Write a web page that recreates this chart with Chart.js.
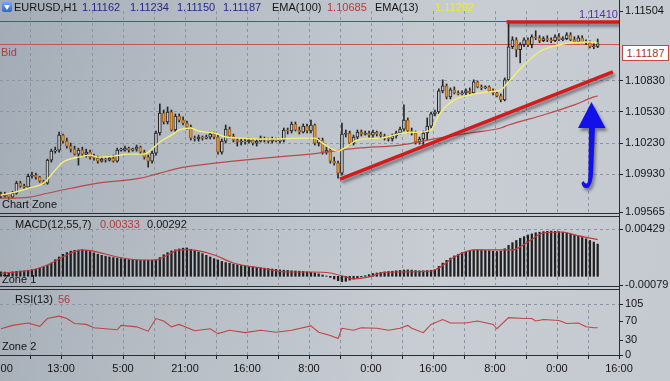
<!DOCTYPE html>
<html>
<head>
<meta charset="utf-8">
<title>EURUSD,H1</title>
<script src="https://cdn.jsdelivr.net/npm/chart.js@4.4.1/dist/chart.umd.min.js"></script>
<style>
  html, body { margin: 0; padding: 0; }
  body {
    width: 670px; height: 381px; overflow: hidden; position: relative;
    font-family: "Liberation Sans", Arial, sans-serif; font-size: 11px; color: #141414;
    background: linear-gradient(100deg, #a3acb6 0%, #b6bdc5 30%, #c8cdd3 65%, #c5cad0 100%);
  }
  canvas { position: absolute; left: -24px; }
  .t { position: absolute; white-space: nowrap; line-height: 12px; z-index: 3; }
  .ln { position: absolute; background: #2a2e33; z-index: 2; }
  .navy { color: #262688; }
  .red { color: #b43a3a; }
  #icon { position: absolute; left: 2px; top: 2px; width: 10px; height: 10px; border-radius: 2px;
    background: linear-gradient(#6fa8ee, #2f66c8); z-index: 3; }
  #icon:after { content: ''; position: absolute; left: 2px; top: 3px; border-left: 3px solid transparent;
    border-right: 3px solid transparent; border-top: 5px solid #fff; }
  #bidBox { position: absolute; left: 622px; top: 45px; width: 45px; height: 14px; background: #fff;
    border: 1px solid #c04848; color: #a83434; text-align: center; line-height: 14px; z-index: 3; }
</style>
</head>
<body>
<canvas id="mainCv" width="694" height="222" style="top:0"></canvas>
<canvas id="macdCv" width="694" height="80" style="top:215px"></canvas>
<canvas id="rsiCv" width="694" height="94" style="top:287px"></canvas>

<div class="ln" style="left:619px;top:0;width:1px;height:356px"></div>
<div class="ln" style="left:0;top:213px;width:620px;height:1px"></div>
<div class="ln" style="left:0;top:216px;width:620px;height:1px"></div>
<div class="ln" style="left:0;top:286px;width:620px;height:1px"></div>
<div class="ln" style="left:0;top:289px;width:620px;height:1px"></div>

<div id="icon"></div>
<div class="t" style="left:14px;top:1px">EURUSD,H1</div>
<div class="t navy" style="left:82px;top:1px">1.11162</div>
<div class="t navy" style="left:130px;top:1px">1.11234</div>
<div class="t navy" style="left:177px;top:1px">1.11150</div>
<div class="t navy" style="left:223px;top:1px">1.11187</div>
<div class="t" style="left:272px;top:1px">EMA(100)</div>
<div class="t red" style="left:327px;top:1px">1.10685</div>
<div class="t" style="left:375px;top:1px">EMA(13)</div>
<div class="t" style="left:435px;top:1px;color:#ece83e">1.11202</div>
<div class="t" style="left:579px;top:8px;color:#5a2ea8">1.11410</div>
<div class="t red" style="left:1px;top:46px">Bid</div>
<div id="bidBox">1.11187</div>
<div class="t" style="left:2px;top:198px">Chart Zone</div>
<div class="t" style="left:15px;top:218px">MACD(12,55,7)</div>
<div class="t red" style="left:100px;top:218px">0.00333</div>
<div class="t" style="left:147px;top:218px">0.00292</div>
<div class="t" style="left:2px;top:273px">Zone 1</div>
<div class="t" style="left:15px;top:293px">RSI(13)</div>
<div class="t red" style="left:58px;top:293px">56</div>
<div class="t" style="left:2px;top:340px">Zone 2</div>

<script>
// ── EURUSD H1 — candles, EMA(13)/EMA(100), MACD and RSI panes ──────────────

// candles, one per hour
const opens = [
  1.09736,1.09717,1.09736,1.09707,1.09746,1.09843,1.09814,1.09804,1.09910,1.09920,
  1.09901,1.09862,1.09843,1.10065,1.10152,1.10162,1.10307,1.10249,1.10201,1.10172,
  1.10123,1.10162,1.10123,1.10143,1.10094,1.10085,1.10056,1.10075,1.10065,1.10085,
  1.10056,1.10162,1.10162,1.10181,1.10162,1.10172,1.10191,1.10143,1.10094,1.10056,
  1.10133,1.10327,1.10520,1.10433,1.10530,1.10356,1.10491,1.10452,1.10423,1.10385,
  1.10278,1.10269,1.10288,1.10278,1.10288,1.10317,1.10288,1.10143,1.10249,1.10365,
  1.10298,1.10259,1.10240,1.10249,1.10240,1.10259,1.10230,1.10249,1.10278,1.10259,
  1.10249,1.10269,1.10249,1.10259,1.10356,1.10346,1.10414,1.10356,1.10336,1.10394,
  1.10346,1.10404,1.10230,1.10259,1.10143,1.10162,1.10056,1.10036,1.09940,1.10317,
  1.10327,1.10230,1.10288,1.10336,1.10317,1.10327,1.10307,1.10336,1.10317,1.10298,
  1.10278,1.10269,1.10298,1.10327,1.10365,1.10452,1.10346,1.10327,1.10240,1.10269,
  1.10327,1.10394,1.10511,1.10530,1.10733,1.10782,1.10675,1.10743,1.10714,1.10704,
  1.10714,1.10733,1.10714,1.10820,1.10772,1.10762,1.10772,1.10733,1.10714,1.10685,
  1.10646,1.10840,1.11159,1.11227,1.11130,1.11179,1.11227,1.11179,1.11256,1.11246,
  1.11217,1.11237,1.11227,1.11217,1.11256,1.11227,1.11237,1.11275,1.11227,1.11208,
  1.11246,1.11208,1.11198,1.11159,1.11162
];
const highs = [
  1.09756,1.09756,1.09746,1.09765,1.09862,1.09862,1.09833,1.09930,1.09949,1.09940,
  1.09910,1.09872,1.10075,1.10172,1.10191,1.10336,1.10317,1.10278,1.10230,1.10201,
  1.10181,1.10191,1.10172,1.10162,1.10123,1.10104,1.10094,1.10085,1.10104,1.10114,
  1.10181,1.10181,1.10201,1.10191,1.10181,1.10211,1.10201,1.10162,1.10114,1.10152,
  1.10346,1.10607,1.10549,1.10578,1.10549,1.10511,1.10511,1.10482,1.10443,1.10404,
  1.10298,1.10307,1.10298,1.10307,1.10336,1.10336,1.10307,1.10269,1.10404,1.10385,
  1.10317,1.10278,1.10269,1.10269,1.10278,1.10269,1.10269,1.10298,1.10288,1.10278,
  1.10288,1.10278,1.10269,1.10375,1.10375,1.10433,1.10433,1.10385,1.10414,1.10414,
  1.10452,1.10414,1.10278,1.10278,1.10191,1.10181,1.10094,1.10056,1.10423,1.10356,
  1.10346,1.10307,1.10356,1.10356,1.10346,1.10346,1.10356,1.10346,1.10336,1.10317,
  1.10298,1.10317,1.10346,1.10385,1.10598,1.10472,1.10375,1.10346,1.10288,1.10346,
  1.10472,1.10530,1.10549,1.10753,1.10840,1.10801,1.10762,1.10772,1.10733,1.10733,
  1.10753,1.10762,1.10840,1.10830,1.10791,1.10782,1.10782,1.10753,1.10724,1.10704,
  1.10859,1.11410,1.11256,1.11246,1.11198,1.11246,1.11246,1.11275,1.11314,1.11266,
  1.11256,1.11266,1.11246,1.11275,1.11285,1.11256,1.11295,1.11295,1.11256,1.11266,
  1.11266,1.11227,1.11217,1.11188,1.11234
];
const lows = [
  1.09698,1.09707,1.09688,1.09698,1.09736,1.09804,1.09785,1.09794,1.09891,1.09881,
  1.09852,1.09833,1.09833,1.10046,1.10133,1.10143,1.10230,1.10181,1.10143,1.10114,
  1.10017,1.10104,1.10094,1.10075,1.10065,1.10036,1.10046,1.10046,1.10056,1.10046,
  1.10046,1.10152,1.10152,1.10143,1.10152,1.10152,1.10123,1.10075,1.09998,1.10036,
  1.10114,1.10307,1.10414,1.10414,1.10346,1.10336,1.10433,1.10404,1.10365,1.10259,
  1.10249,1.10249,1.10259,1.10269,1.10269,1.10269,1.10123,1.10123,1.10230,1.10278,
  1.10240,1.10201,1.10211,1.10220,1.10230,1.10211,1.10201,1.10240,1.10240,1.10230,
  1.10230,1.10240,1.10230,1.10240,1.10317,1.10327,1.10346,1.10317,1.10327,1.10327,
  1.10327,1.10211,1.10201,1.10123,1.10123,1.10036,1.10017,1.09891,1.09920,1.10288,
  1.10211,1.10211,1.10269,1.10298,1.10307,1.10288,1.10288,1.10298,1.10278,1.10259,
  1.10249,1.10249,1.10278,1.10317,1.10346,1.10327,1.10307,1.10220,1.10220,1.10201,
  1.10259,1.10375,1.10491,1.10511,1.10714,1.10656,1.10656,1.10704,1.10694,1.10694,
  1.10694,1.10704,1.10704,1.10762,1.10743,1.10753,1.10724,1.10694,1.10675,1.10627,
  1.10636,1.10820,1.11140,1.11062,1.11004,1.11159,1.11159,1.11149,1.11227,1.11198,
  1.11208,1.11208,1.11198,1.11208,1.11217,1.11217,1.11227,1.11217,1.11198,1.11198,
  1.11198,1.11179,1.11149,1.11140,1.11150
];
const closes = [
  1.09717,1.09736,1.09707,1.09746,1.09843,1.09814,1.09804,1.09910,1.09920,1.09901,
  1.09862,1.09843,1.10065,1.10152,1.10162,1.10307,1.10249,1.10201,1.10172,1.10123,
  1.10162,1.10123,1.10143,1.10094,1.10085,1.10056,1.10075,1.10065,1.10085,1.10056,
  1.10162,1.10162,1.10181,1.10162,1.10172,1.10191,1.10143,1.10094,1.10056,1.10133,
  1.10327,1.10520,1.10433,1.10530,1.10356,1.10491,1.10452,1.10423,1.10385,1.10278,
  1.10269,1.10288,1.10278,1.10288,1.10317,1.10288,1.10143,1.10249,1.10365,1.10298,
  1.10259,1.10240,1.10249,1.10240,1.10259,1.10230,1.10249,1.10278,1.10259,1.10249,
  1.10269,1.10249,1.10259,1.10356,1.10346,1.10414,1.10356,1.10336,1.10394,1.10346,
  1.10404,1.10230,1.10259,1.10143,1.10162,1.10056,1.10036,1.09940,1.10317,1.10327,
  1.10230,1.10288,1.10336,1.10317,1.10327,1.10307,1.10336,1.10317,1.10298,1.10278,
  1.10269,1.10298,1.10327,1.10365,1.10452,1.10346,1.10327,1.10240,1.10269,1.10327,
  1.10394,1.10511,1.10530,1.10733,1.10782,1.10675,1.10743,1.10714,1.10704,1.10714,
  1.10733,1.10714,1.10820,1.10772,1.10762,1.10772,1.10733,1.10714,1.10685,1.10646,
  1.10840,1.11159,1.11227,1.11130,1.11179,1.11227,1.11179,1.11256,1.11246,1.11217,
  1.11237,1.11227,1.11217,1.11256,1.11227,1.11237,1.11275,1.11227,1.11208,1.11246,
  1.11208,1.11198,1.11159,1.11162,1.11187
];

// moving averages, read at bar positions
const ema13Idx  = [0,3,7,11,14,16,20,23,25,29,33,37,38,41,44,46,49,51,55,58,62,67,72,77,81,83,87,89,92,98,104,108,111,113,117,121,126,129,131,135,139,143,147,152,154];
const ema13Vals = [1.09727,1.09751,1.09794,1.09843,1.09969,1.10046,1.10094,1.10114,1.10094,1.10104,
  1.10123,1.10123,1.10143,1.10240,1.10307,1.10356,1.10375,1.10346,1.10327,1.10288,
  1.10278,1.10269,1.10269,1.10278,1.10278,1.10230,1.10152,1.10191,1.10259,1.10278,
  1.10327,1.10336,1.10356,1.10501,1.10646,1.10694,1.10724,1.10743,1.10820,1.10985,
  1.11111,1.11169,1.11198,1.11205,1.11195];
const ema100Idx  = [0,7,12,18,25,36,41,46,51,60,68,77,82,92,103,113,121,129,131,140,148,153,154];
const ema100Vals = [1.09698,1.09707,1.09746,1.09794,1.09843,1.09891,1.09940,1.09988,1.10017,1.10056,
  1.10085,1.10114,1.10133,1.10181,1.10211,1.10278,1.10327,1.10375,1.10404,1.10501,1.10598,1.10675,1.10685];

// drawn annotations (bar index, price)
const trendUpIdx = [87.5, 157.9];
const trendUpVals = [1.09881, 1.10917];
const trendTopIdx = [130.5, 159.5];
const trendTopVals = [1.11398, 1.11398];
const arrowTip = [152.4, 1.10627];
const highLevel = 1.11410;
const bidLevel = 1.11187;

// MACD(12,55,7)
const macdHist = [
  0.00040,0.00038,0.00036,0.00040,0.00045,0.00048,0.00050,0.00055,0.00060,
  0.00065,0.00075,0.00085,0.00100,0.00120,
  0.00150,0.00175,0.00200,
  0.00215,0.00228,0.00235,0.00238,0.00240,0.00236,
  0.00225,0.00212,0.00200,
  0.00190,0.00182,0.00175,0.00170,0.00165,
  0.00160,0.00156,0.00152,0.00150,0.00148,0.00147,0.00146,0.00145,0.00146,0.00150,
  0.00170,0.00195,0.00215,
  0.00230,0.00240,0.00248,0.00255,0.00257,
  0.00245,0.00232,0.00220,0.00205,
  0.00190,0.00175,0.00160,0.00148,0.00135,
  0.00125,0.00118,0.00110,0.00104,0.00098,
  0.00092,0.00088,0.00084,0.00080,0.00077,0.00074,
  0.00070,0.00066,0.00062,0.00058,0.00055,0.00053,
  0.00050,0.00048,0.00046,0.00044,0.00040,0.00035,
  0.00030,0.00022,0.00012,0.00002,-0.00010,
  -0.00025,-0.00040,-0.00048,-0.00045,-0.00035,
  -0.00025,-0.00015,-0.00005,0.00005,
  0.00015,0.00025,0.00030,0.00035,
  0.00040,0.00043,0.00046,0.00050,0.00053,0.00057,0.00058,0.00056,0.00052,0.00050,0.00050,0.00052,0.00055,0.00060,
  0.00090,0.00120,0.00145,0.00165,0.00185,
  0.00200,0.00215,0.00225,0.00232,0.00238,0.00240,0.00238,0.00235,0.00232,0.00228,0.00225,
  0.00230,0.00250,0.00280,0.00305,0.00325,0.00345,
  0.00360,0.00375,0.00385,0.00395,0.00400,0.00405,
  0.00408,0.00410,0.00408,0.00405,0.00400,0.00392,
  0.00385,0.00375,0.00365,0.00352,0.00340,0.00325,0.00310,0.00292
];
const signalIdx  = [0,8,12,17,21,25,30,36,40,43,46,49,55,60,67,74,80,85,89,91,95,98,103,111,113,117,122,128,132,136,140,145,148,154];
const signalVals = [0.00027,0.00057,0.00103,0.00193,0.00239,0.00220,0.00175,0.00148,0.00148,0.00193,
  0.00239,0.00239,0.00193,0.00121,0.00075,0.00039,0.00039,0.00030,-0.00006,-0.00024,
  -0.00006,0.00030,0.00039,0.00048,0.00075,0.00175,0.00239,0.00239,0.00239,0.00311,
  0.00393,0.00402,0.00375,0.00333];

// RSI(13)
const rsiIdx  = [0,3,7,10,12,15,17,19,22,24,27,30,31,35,38,40,42,44,46,50,54,56,59,63,67,71,75,80,82,85,87,88,91,93,97,100,103,105,106,109,111,114,116,120,123,127,128,131,135,137,138,140,144,146,149,151,153,154];
const rsiVals = [54,61,66,59,75,80,75,65,63,56,54,52,61,58,49,75,70,58,63,50,54,44,51,46,51,47,51,60,47,40,34,55,51,56,55,51,55,61,55,46,63,73,66,66,70,63,54,77,75,75,70,73,71,65,66,58,56,56];

// axes
const timeLabels = ['21:00','13:00','5:00','21:00','16:00','8:00','0:00','16:00','8:00','0:00','16:00'];
const priceTicks = [1.09565, 1.09930, 1.10230, 1.10530, 1.10830, 1.11504];
const macdTicks = [-0.00079, 0.00429];
const rsiTicks = [0, 30, 70, 105];

const X_MIN = -6.44, X_MAX = 159.5;
const GRID = '#8b96a2';
const INK = '#141414';
const FONT = { family: '"Liberation Sans", Arial, sans-serif', size: 11 };
const NONE = 'rgba(0,0,0,0)';

const gridVals = [];
for (let v = -0.5; v <= X_MAX + 0.01; v += 8) gridVals.push(v);

const pts = (xs, ys) => xs.map((x, k) => ({ x, y: ys[k] }));
const isUp = i => closes[i] >= opens[i];

function xScale(withLabels) {
    return {
        type: 'linear', min: X_MIN, max: X_MAX, offset: false,
        afterBuildTicks: ax => { ax.ticks = gridVals.map(v => ({ value: v })); },
        afterFit: ax => { ax.height = withLabels ? 26 : 0; },
        grid: { color: GRID, drawTicks: withLabels, tickLength: 4, tickColor: '#222', offset: false },
        border: { display: withLabels, color: '#2a2e33', dash: [3, 3] },
        ticks: {
            display: withLabels, autoSkip: false, maxRotation: 0, padding: 3, color: INK, font: FONT,
            callback: v => {
                const k = Math.round((v + 0.5) / 8);
                return k % 2 === 0 ? (timeLabels[k / 2] || '') : '';
            }
        }
    };
}

function yScale(min, max, ticks, gridAt, fmt) {
    return {
        type: 'linear', position: 'right', min, max,
        afterBuildTicks: ax => { ax.ticks = ticks.map(v => ({ value: v })); },
        afterFit: ax => { ax.width = 51; },
        grid: { color: c => gridAt.includes(c.tick && c.tick.value) ? GRID : NONE, tickLength: 4, tickColor: '#222' },
        border: { display: false, dash: [3, 3] },
        ticks: { color: INK, font: FONT, padding: 2, callback: fmt }
    };
}

const baseOptions = (padTop, padBottom) => ({
    responsive: false, animation: false, devicePixelRatio: 1, events: [],
    layout: { padding: { top: padTop, bottom: padBottom, left: 0, right: 0 } },
    plugins: { legend: { display: false }, tooltip: { enabled: false } }
});

// drop shadow for hand-drawn annotations
const shadowPlugin = {
    id: 'shadow',
    beforeDatasetDraw(chart, args) {
        if (!chart.data.datasets[args.index].shadow) return;
        const ctx = chart.ctx;
        ctx.save();
        ctx.shadowColor = 'rgba(25,25,35,0.45)';
        ctx.shadowBlur = 3;
        ctx.shadowOffsetX = 2;
        ctx.shadowOffsetY = 3;
    },
    afterDatasetDraw(chart, args) {
        if (chart.data.datasets[args.index].shadow) chart.ctx.restore();
    }
};

// high line (purple) and bid line (red)
const levelsPlugin = {
    id: 'levels',
    beforeDatasetsDraw(chart) {
        const { ctx, chartArea: a, scales: { y } } = chart;
        [[highLevel, '#6a3cc0'], [bidLevel, '#c25656']].forEach(([v, col]) => {
            const py = Math.round(y.getPixelForValue(v)) + 0.5;
            ctx.save();
            ctx.strokeStyle = col;
            ctx.lineWidth = 1;
            ctx.beginPath();
            ctx.moveTo(a.left, py);
            ctx.lineTo(a.right, py);
            ctx.stroke();
            ctx.restore();
        });
    }
};

// blue hand-drawn arrow
const arrowPlugin = {
    id: 'arrow',
    afterDatasetsDraw(chart) {
        const { ctx, scales: { x, y } } = chart;
        const tx = x.getPixelForValue(arrowTip[0]);
        const ty = y.getPixelForValue(arrowTip[1]);
        ctx.save();
        ctx.translate(tx, ty);
        ctx.shadowColor = 'rgba(25,25,35,0.45)';
        ctx.shadowBlur = 3;
        ctx.shadowOffsetX = 2;
        ctx.shadowOffsetY = 3;
        ctx.fillStyle = '#1212e8';
        ctx.beginPath();
        ctx.moveTo(0, 0);
        ctx.lineTo(14, 26);
        ctx.lineTo(3.5, 26);
        ctx.lineTo(1.8, 66);
        ctx.quadraticCurveTo(1.5, 84, -4, 86);
        ctx.quadraticCurveTo(-9, 87, -10, 81);
        ctx.lineTo(-8, 79);
        ctx.quadraticCurveTo(-6, 83, -4, 81);
        ctx.quadraticCurveTo(-3, 78, -3, 66);
        ctx.lineTo(-2.5, 26);
        ctx.lineTo(-13.5, 26);
        ctx.closePath();
        ctx.fill();
        ctx.restore();
    }
};

const idx = opens.map((_, i) => i);

new Chart(document.getElementById('mainCv'), {
    type: 'bar',
    data: {
        datasets: [
            { type: 'line', label: 'EMA(13)', data: pts(ema13Idx, ema13Vals), borderColor: '#f3ee78', borderWidth: 1.4,
              pointRadius: 0, cubicInterpolationMode: 'monotone', order: 3 },
            { type: 'line', label: 'EMA(100)', data: pts(ema100Idx, ema100Vals), borderColor: '#bb4848', borderWidth: 1.2,
              pointRadius: 0, cubicInterpolationMode: 'monotone', order: 4 },
            { type: 'bar', label: 'wicks', data: idx.map(i => ({ x: i, y: [lows[i], highs[i]] })),
              backgroundColor: '#262626', barThickness: 1, grouped: false, order: 6 },
            { type: 'bar', label: 'EURUSD,H1', data: idx.map(i => ({ x: i, y: [opens[i], closes[i]] })),
              backgroundColor: c => isUp(c.dataIndex) ? '#c3c8ce' : '#e49a3a',
              borderColor: c => isUp(c.dataIndex) ? '#222222' : '#9c5e1e',
              borderWidth: 1, borderSkipped: false, barThickness: 3, minBarLength: 1, grouped: false, order: 5 },
            { type: 'line', label: 'trend', data: pts(trendUpIdx, trendUpVals), borderColor: '#d21c1c', borderWidth: 3.5,
              pointRadius: 0, order: 1, shadow: true },
            { type: 'line', label: 'top', data: pts(trendTopIdx, trendTopVals), borderColor: '#d21c1c', borderWidth: 3.5,
              pointRadius: 0, order: 1, shadow: true }
        ]
    },
    options: {
        ...baseOptions(11, 10),
        scales: {
            x: xScale(false),
            y: yScale(1.09565, 1.11504, priceTicks, priceTicks.slice(1, 5), v => v.toFixed(5))
        }
    },
    plugins: [shadowPlugin, levelsPlugin, arrowPlugin]
});

new Chart(document.getElementById('macdCv'), {
    type: 'bar',
    data: {
        datasets: [
            { type: 'line', label: 'signal', data: pts(signalIdx, signalVals), borderColor: '#c03a3a', borderWidth: 1.2,
              pointRadius: 0, cubicInterpolationMode: 'monotone', order: 1 },
            { type: 'bar', label: 'MACD', data: idx.map(i => ({ x: i, y: macdHist[i] })),
              backgroundColor: '#202020', barThickness: 1.6, grouped: false, order: 2 }
        ]
    },
    options: {
        ...baseOptions(14, 10),
        scales: {
            x: xScale(false),
            y: yScale(-0.00079, 0.00429, macdTicks, [0.00429], v => v.toFixed(5))
        }
    }
});

new Chart(document.getElementById('rsiCv'), {
    type: 'line',
    data: {
        datasets: [
            { label: 'RSI(13)', data: pts(rsiIdx, rsiVals), borderColor: '#c04444', borderWidth: 1.1,
              pointRadius: 0, tension: 0 }
        ]
    },
    options: {
        ...baseOptions(17, 0),
        scales: {
            x: xScale(true),
            y: yScale(0, 105, rsiTicks, [105], v => String(v))
        }
    }
});
</script>
</body>
</html>
